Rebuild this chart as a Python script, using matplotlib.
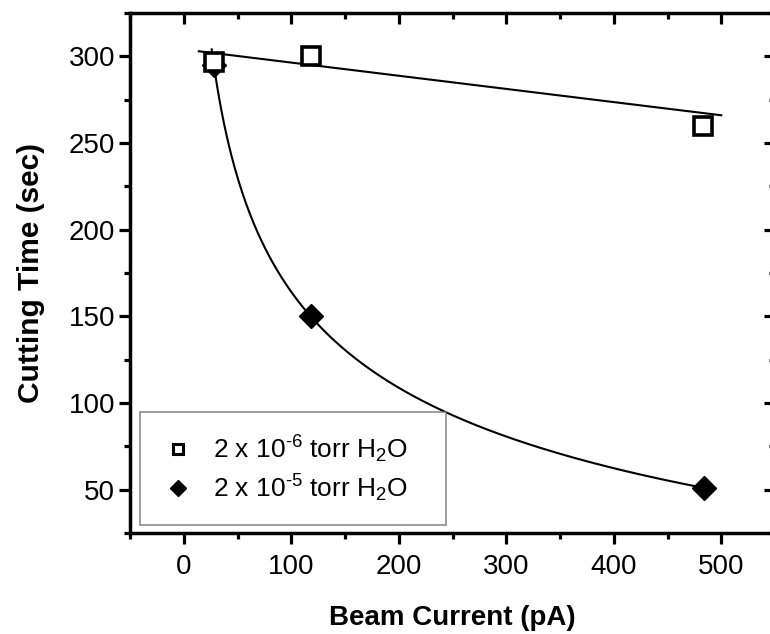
import numpy as np
import matplotlib
matplotlib.use("Agg")
import matplotlib.pyplot as plt
from matplotlib.ticker import MultipleLocator

plt.rcParams['font.family'] = ['Liberation Sans', 'DejaVu Sans']
plt.rcParams['mathtext.fontset'] = 'custom'
plt.rcParams['mathtext.rm'] = 'Liberation Sans'
plt.rcParams['mathtext.it'] = 'Liberation Sans:italic'
plt.rcParams['mathtext.bf'] = 'Liberation Sans:bold'

# ---- data ----
current_low = [28, 118, 483]          # pA, 2e-6 torr H2O
time_low = [297, 300, 260]            # s
current_high = [28, 118, 484]         # pA, 2e-5 torr H2O
time_high = [295, 150, 51]            # s

label_low = '2 x 10$^{\u20106}$ torr H$_2$O'
label_high = '2 x 10$^{\u20105}$ torr H$_2$O'

# linear fit line
lin_slope = -0.076
lin_intercept = 304.0
lin_range = (14, 500)

# range of the decay fit drawn through the high-pressure series
decay_range = (26, 484)

x_ticks = [0, 100, 200, 300, 400, 500]
y_ticks = [50, 100, 150, 200, 250, 300]

# ---- figure ----
fig = plt.figure(figsize=(7.7, 6.34), dpi=100)
ax = fig.add_axes([130/770, 1-533/634, (775-130)/770, (533-13)/634])

# linear fit
xl = np.linspace(*lin_range, 50)
ax.plot(xl, lin_slope*xl + lin_intercept, color='black', lw=1.5, zorder=2)

# decay fit y = a*x^b + c, fitted to the high-pressure data
xh = np.array(current_high, float)
yh = np.array(time_high, float)
best = None
for b in np.linspace(-2.0, -0.02, 1981):
    M = np.column_stack([xh**b, np.ones_like(xh)])
    coef, *_ = np.linalg.lstsq(M, yh, rcond=None)
    err = np.sum((M @ coef - yh)**2)
    if best is None or err < best[0]:
        best = (err, b, coef)
_, bexp, (acoef, ccoef) = best
xe = np.linspace(*decay_range, 400)
ax.plot(xe, acoef*xe**bexp + ccoef, color='black', lw=1.5, zorder=2)

ax.plot(current_high, time_high, linestyle='none', marker='D', ms=12.5,
        mfc='black', mec='black', mew=1, label=label_high, zorder=3)
ax.plot(current_low, time_low, linestyle='none', marker='s', ms=13,
        mfc='white', mec='black', mew=2.6, label=label_low, zorder=4)

ax.set_xlim(-50, 550)
ax.set_ylim(25, 325)
ax.set_xticks(x_ticks)
ax.set_yticks(y_ticks)
ax.xaxis.set_minor_locator(MultipleLocator(50))
ax.yaxis.set_minor_locator(MultipleLocator(25))

for s in ax.spines.values():
    s.set_linewidth(2.5)

ax.tick_params(which='both', top=True, right=True, width=2.3)
ax.tick_params(which='major', length=7.8, labelsize=20)
ax.tick_params(which='minor', length=4.5)
ax.tick_params(axis='x', which='both', direction='out', pad=7)
ax.tick_params(axis='y', which='both', direction='out', pad=3)
# top / right ticks point inward
for t in ax.xaxis.get_major_ticks() + ax.xaxis.get_minor_ticks():
    t.tick2line.set_marker(3)  # TICKDOWN
for t in ax.yaxis.get_major_ticks() + ax.yaxis.get_minor_ticks():
    t.tick2line.set_marker(0)  # TICKLEFT

ax.set_xlabel('Beam Current (pA)', fontsize=20, fontweight='bold', labelpad=18)
ax.set_ylabel('Cutting Time (sec)', fontsize=21.5, fontweight='bold', labelpad=17)

handles, labels = ax.get_legend_handles_labels()
leg = ax.legend(handles[::-1], labels[::-1], loc='lower left',
                bbox_to_anchor=(0.0155, 0.0154, 0.4744, 0.2), mode='expand',
                borderaxespad=0, fontsize=19, frameon=True, fancybox=False,
                edgecolor='#707070', handlelength=1.3, handletextpad=0.65,
                borderpad=0.8, labelspacing=0.3)
leg.get_frame().set_linewidth(1.2)
lh = leg.legend_handles
lh[0].set_markersize(6.5)
lh[0].set_markeredgewidth(2.2)
lh[1].set_markersize(8.5)

fig.savefig('out.png', dpi=100)
